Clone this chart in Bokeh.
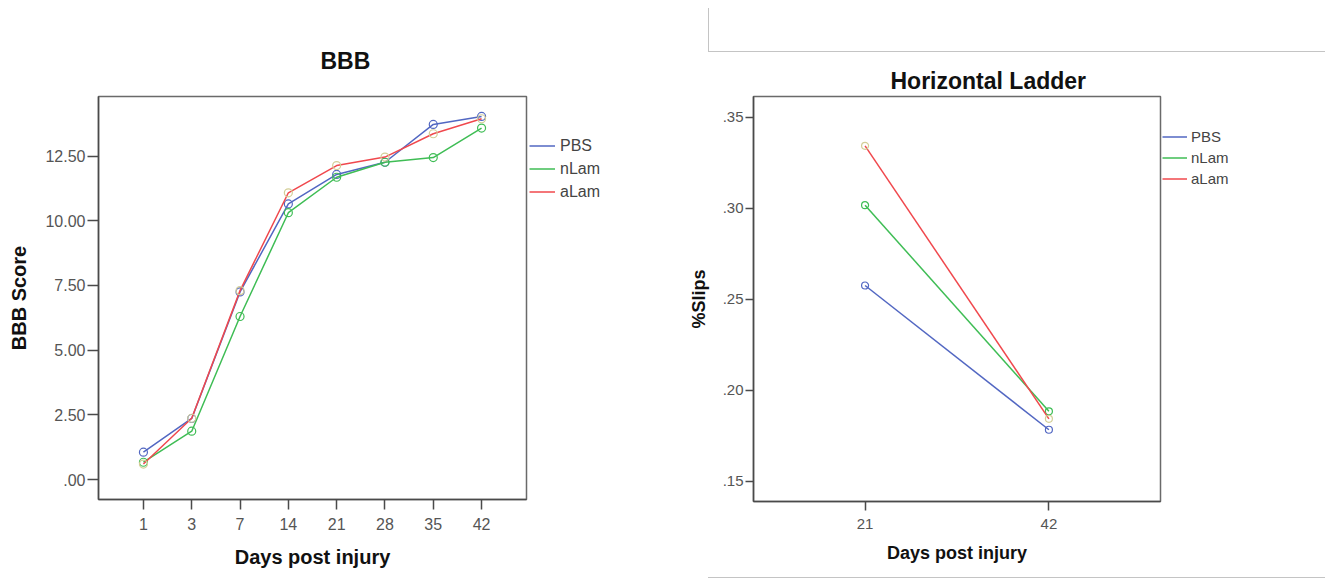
from bokeh.plotting import figure
from bokeh.models import (FactorRange, Range1d, FixedTicker, CustomJSTickFormatter,
                          Legend, LegendItem, Div)
from bokeh.layouts import row
from bokeh.embed import file_html
from bokeh.resources import INLINE

# ---------------- data ----------------
groups = ["PBS", "nLam", "aLam"]

days_bbb = ["1", "3", "7", "14", "21", "28", "35", "42"]
bbb_pbs = [1.06, 2.36, 7.25, 10.65, 11.79, 12.26, 13.72, 14.03]
bbb_nlam = [0.67, 1.87, 6.30, 10.31, 11.68, 12.26, 12.44, 13.58]
bbb_alam = [0.60, 2.37, 7.30, 11.08, 12.13, 12.46, 13.36, 13.94]
bbb_yticks = [0, 2.5, 5, 7.5, 10, 12.5]

days_ladder = ["21", "42"]
ladder_pbs = [0.2576, 0.1784]
ladder_nlam = [0.3017, 0.1885]
ladder_alam = [0.3343, 0.1844]
ladder_yticks = [0.15, 0.20, 0.25, 0.30, 0.35]

line_colors = ["#5267c2", "#3fbd55", "#f0484d"]
marker_colors = ["#5267c2", "#3fbd55", "#d3ce97"]

FONT = "Liberation Sans"
fmt_code = r"""var s = tick.toFixed(2); return s.replace(/^0\./, '.');"""
NAN = float("nan")


def make_fig(factors, pad, y0, y1, yticks, series, frame_w, frame_h, borders,
             title, title_offset, title_standoff, title_size, tick_size,
             label_size, xlabel, ylabel, tick_len, xtick_len,
             ylabel_standoff, xlabel_standoff, marker_size):
    p = figure(frame_width=frame_w, frame_height=frame_h,
               output_backend="svg", toolbar_location=None,
               x_range=FactorRange(factors=factors, range_padding=pad,
                                   range_padding_units="absolute"),
               y_range=Range1d(y0, y1),
               min_border_left=borders[0], min_border_right=borders[1],
               min_border_top=borders[2], min_border_bottom=borders[3])
    p.xgrid.visible = False
    p.ygrid.visible = False
    p.background_fill_color = "white"
    p.border_fill_color = "white"
    p.outline_line_color = "#6a6a6a"
    p.outline_line_width = 1.5

    p.title.text = title
    p.title.align = "left"
    p.title.offset = title_offset
    p.title.standoff = title_standoff
    p.title.text_font = FONT
    p.title.text_font_size = title_size
    p.title.text_font_style = "bold"
    p.title.text_color = "#111111"

    p.yaxis.ticker = FixedTicker(ticks=yticks)
    p.yaxis.formatter = CustomJSTickFormatter(code=fmt_code)
    for ax in (p.xaxis[0], p.yaxis[0]):
        ax.axis_line_color = "#4a4a4a"
        ax.axis_line_width = 1.5
        ax.major_tick_line_color = "#4a4a4a"
        ax.major_tick_line_width = 1.5
        ax.major_tick_in = 0
        ax.minor_tick_line_color = None
        ax.major_label_text_font = FONT
        ax.major_label_text_font_size = tick_size
        ax.major_label_text_color = "#555555"
        ax.axis_label_text_font = FONT
        ax.axis_label_text_font_size = label_size
        ax.axis_label_text_font_style = "bold"
        ax.axis_label_text_color = "#111111"
    p.yaxis.major_tick_out = tick_len
    p.xaxis.major_tick_out = xtick_len
    p.yaxis.major_label_standoff = 2
    p.xaxis.major_label_standoff = 8
    p.xaxis.axis_label = xlabel
    p.yaxis.axis_label = ylabel
    p.yaxis.axis_label_standoff = ylabel_standoff
    p.xaxis.axis_label_standoff = xlabel_standoff

    for vals, lc, mc in zip(series, line_colors, marker_colors):
        p.line(x=factors, y=vals, line_color=lc, line_width=1.5)
        p.scatter(x=factors, y=vals, marker="circle", size=marker_size,
                  fill_color=None, line_color=mc, line_width=1.2)
    return p


def make_legend_fig(width, height, loc, item_h, glyph_w, standoff, font_size):
    lf = figure(width=width, height=height, output_backend="svg",
                toolbar_location=None, x_range=Range1d(0, 1),
                y_range=Range1d(0, 1), min_border=0)
    lf.axis.visible = False
    lf.xgrid.visible = False
    lf.ygrid.visible = False
    lf.outline_line_color = None
    lf.background_fill_color = "white"
    lf.border_fill_color = "white"
    items = []
    for name, lc in zip(groups, line_colors):
        # legend key only: a line with no drawable points
        r = lf.line(x=[NAN], y=[NAN], line_color=lc, line_width=1.5)
        items.append(LegendItem(label=name, renderers=[r]))
    leg = Legend(items=items, location=loc, margin=0, padding=0, spacing=0,
                 border_line_color=None, background_fill_alpha=0,
                 glyph_height=item_h, label_height=item_h,
                 glyph_width=glyph_w, label_standoff=standoff,
                 label_text_font=FONT, label_text_font_size=font_size,
                 label_text_color="#444444")
    lf.add_layout(leg)
    return lf


left = make_fig(days_bbb, 0.43, -0.77, 14.8, bbb_yticks,
                [bbb_pbs, bbb_nlam, bbb_alam],
                frame_w=428, frame_h=403, borders=(98, 2, 96, 72),
                title="BBB", title_offset=222, title_standoff=46,
                title_size="23px", tick_size="16px", label_size="20px",
                xlabel="Days post injury", ylabel="BBB Score",
                tick_len=11, xtick_len=10, ylabel_standoff=12,
                xlabel_standoff=13, marker_size=8)
left_legend = make_legend_fig(157, 571, (1, 295), 23, 26, 5, "16px")

right = make_fig(days_ladder, 0.107, 0.139, 0.3614, ladder_yticks,
                 [ladder_pbs, ladder_nlam, ladder_alam],
                 frame_w=407, frame_h=405, borders=(68, 2, 93, 73),
                 title="Horizontal Ladder", title_offset=137, title_standoff=5,
                 title_size="23px", tick_size="15px", label_size="18px",
                 xlabel="Days post injury", ylabel="%Slips",
                 tick_len=8, xtick_len=9, ylabel_standoff=11,
                 xlabel_standoff=11, marker_size=7)
right_legend = make_legend_fig(163, 571, (0, 309), 21, 25, 4, "15px")

frame_lines = Div(
    text=('<div style="position:fixed;left:708px;top:8px;width:617px;height:44px;'
          'border-left:1px solid #c4c4c4;border-bottom:1px solid #c4c4c4;'
          'box-sizing:border-box;"></div>'
          '<div style="position:fixed;left:708px;top:577px;width:617px;'
          'height:1px;background:#c4c4c4;"></div>'),
    width=1, height=1)

layout = row(left, left_legend, right, right_legend, frame_lines)

open("out.html", "w").write(file_html(layout, INLINE))
